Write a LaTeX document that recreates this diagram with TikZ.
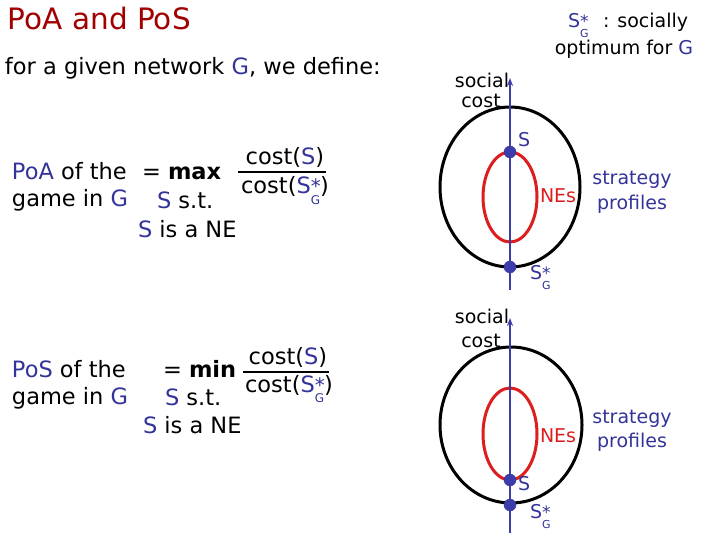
\documentclass[tikz,border=0pt]{standalone}
\usepackage{fontspec}
\setmainfont{DejaVu Sans}
\usetikzlibrary{arrows.meta}
\definecolor{tb}{RGB}{51,51,153}
\definecolor{axb}{RGB}{60,60,170}
\definecolor{nered}{RGB}{220,30,30}
\definecolor{titlered}{RGB}{160,0,0}
% #1 star size, #2 G size, #3 lowering of G
\newcommand{\sgstar}[3]{S\makebox[0pt][l]{\fontsize{#1}{#1}\selectfont *}\raisebox{-#3}{\fontsize{#2}{#2}\selectfont G}}
\begin{document}
\begin{tikzpicture}[x=1pt,y=-1pt,
  txt/.style={inner sep=0pt, outer sep=0pt, font=\fontsize{22.5}{26}\selectfont},
  lbl/.style={inner sep=0pt, outer sep=0pt, font=\fontsize{19}{22}\selectfont},
  outer/.style={draw=black, line width=3pt},
  nes/.style={draw=nered, line width=3pt},
  axis/.style={draw=axb, line width=2pt, -{Stealth[length=8pt,width=6pt]}},
  dot/.style={circle, fill=axb, draw=tb, inner sep=0pt, minimum size=12pt},
  bar/.style={draw=black, line width=1.5pt}]
\useasboundingbox (0,0) rectangle (720,540);
% title and intro
\node[txt, anchor=base west, text=titlered, font=\fontsize{29.5}{32}\selectfont] (title) at (8,30) {PoA and PoS};
\node[txt, anchor=base west] (def) at (5,75) {for a given network \textcolor{tb}{G}, we define:};
% PoA block
\node[txt, anchor=base west] (poa1) at (12,180) {\textcolor{tb}{PoA} of the};
\node[txt, anchor=base west] (poa2) at (12,207) {game in \textcolor{tb}{G}};
\node[txt, anchor=base west] (poamax) at (142,180) {= \textbf{max}};
\node[txt, anchor=base west] (poast) at (157,208) {\textcolor{tb}{S} s.t.};
\node[txt, anchor=base west] (poane) at (138,237) {\textcolor{tb}{S} is a NE};
\node[txt, anchor=base] (poanum) at (285,165) {cost(\textcolor{tb}{S})};
\node[txt, anchor=base] (poaden) at (285,194) {cost(\textcolor{tb}{\sgstar{20}{12}{10.2pt}})};
\coordinate (poab1) at (238,172);
\coordinate (poab2) at (326,172);
\draw[bar] (poab1) -- (poab2);
% PoS block
\node[txt, anchor=base west] (pos1) at (12,377) {\textcolor{tb}{PoS} of the};
\node[txt, anchor=base west] (pos2) at (12,404) {game in \textcolor{tb}{G}};
\node[txt, anchor=base west] (posmin) at (163,377) {= \textbf{min}};
\node[txt, anchor=base west] (posst) at (165,405) {\textcolor{tb}{S} s.t.};
\node[txt, anchor=base west] (posne) at (143,433) {\textcolor{tb}{S} is a NE};
\node[txt, anchor=base] (posnum) at (288,364) {cost(\textcolor{tb}{S})};
\node[txt, anchor=base] (posden) at (289,392) {cost(\textcolor{tb}{\sgstar{20}{12}{10.2pt}})};
\coordinate (posb1) at (243,372);
\coordinate (posb2) at (329,372);
\draw[bar] (posb1) -- (posb2);
% legend top right
\node[lbl, anchor=base west, text=tb] (sglab) at (568,28) {\sgstar{17}{11}{10pt}};
\node[lbl, anchor=base west] (soc1) at (603,28) {: socially};
\node[lbl, anchor=base] (soc2) at (624,55) {optimum for \textcolor{tb}{G}};
% top diagram
\draw[outer] (510,187) ellipse [x radius=70, y radius=80];
\draw[nes] (510,197) ellipse [x radius=27, y radius=45];
\coordinate (ax1b) at (510,290);
\coordinate (ax1t) at (510,78);
\draw[axis] (ax1b) -- (ax1t);
\node[dot] (s1) at (510,152) {};
\node[dot] (opt1) at (510,267) {};
\node[lbl, anchor=base west, text=tb] (s1lab) at (518,147) {S};
\node[lbl, anchor=base west, text=nered] (nes1) at (540,203) {NEs};
\node[lbl, anchor=base, text=tb] (str1) at (632,185) {strategy};
\node[lbl, anchor=base, text=tb] (pro1) at (632,210) {profiles};
\node[lbl, anchor=base] (socc1) at (482,88) {social};
\node[lbl, anchor=base] (cost1) at (481,108) {cost};
\node[lbl, anchor=base west, text=tb] (opt1lab) at (530,279) {\sgstar{17}{11}{10pt}};
% bottom diagram
\draw[outer] (511,425) ellipse [x radius=71, y radius=78];
\draw[nes] (510,434) ellipse [x radius=27, y radius=46];
\coordinate (ax2b) at (510,533);
\coordinate (ax2t) at (510,318);
\draw[axis] (ax2b) -- (ax2t);
\node[dot] (s2) at (510,480) {};
\node[dot] (opt2) at (510,505) {};
\node[lbl, anchor=base west, text=tb] (s2lab) at (518,490) {S};
\node[lbl, anchor=base west, text=nered] (nes2) at (540,442) {NEs};
\node[lbl, anchor=base, text=tb] (str2) at (632,423) {strategy};
\node[lbl, anchor=base, text=tb] (pro2) at (632,447) {profiles};
\node[lbl, anchor=base] (socc2) at (482,323) {social};
\node[lbl, anchor=base] (cost2) at (481,347) {cost};
\node[lbl, anchor=base west, text=tb] (opt2lab) at (530,518) {\sgstar{17}{11}{10pt}};
\end{tikzpicture}
\end{document}
